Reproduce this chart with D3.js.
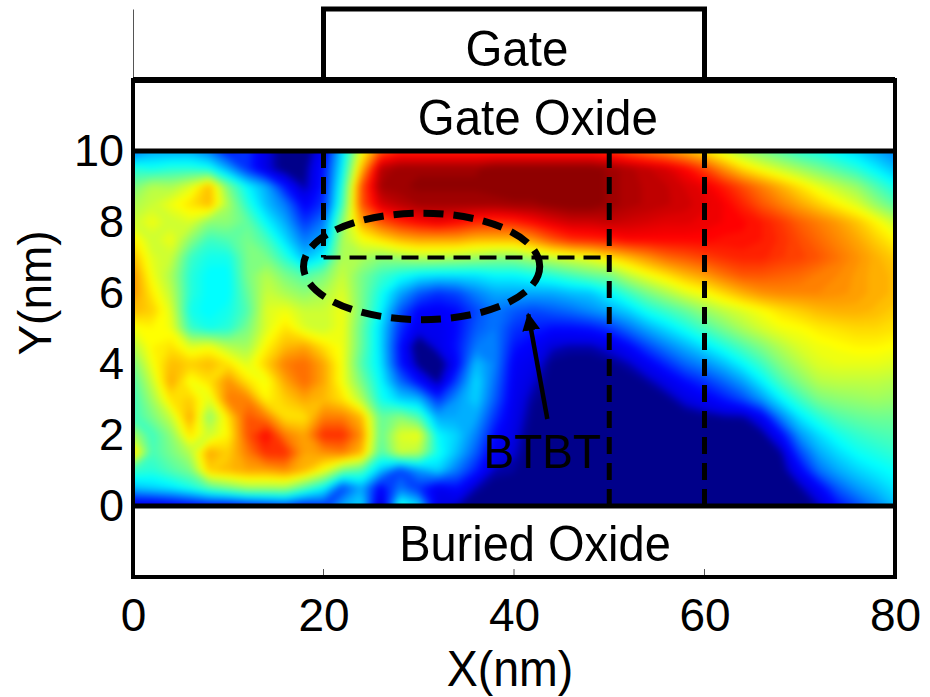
<!DOCTYPE html>
<html>
<head>
<meta charset="utf-8">
<script src="https://cdn.jsdelivr.net/npm/d3@7"></script>
<style>
  html, body { margin: 0; padding: 0; background: #fff; }
  text { font-family: "Liberation Sans", Arial, sans-serif; fill: #000; }
</style>
</head>
<body>
<div class="contain"></div>
<script>
// grid positions, nm
const xs = d3.range(0, 81, 2);
const ys = d3.range(10, -0.5, -0.5);

const xTicks = [0, 20, 40, 60, 80];
const yTicks = [0, 2, 4, 6, 8, 10];
const innerTicks = [20, 40, 60];
const gateEdges = [20, 60];
const dashedX = [50, 60];

// field, 0-100 on the jet scale, rows from y=10 down to y=0
const fieldRows = [
  [25,30,30,30,25,15,18,8,3,2,12,35,62,80,85,85,85,85,85,85, 85,85,85,85,85,84,80,77,74,70,66,60,54,50,46,42,40,37,34,30,26],
  [42,40,42,42,40,30,18,8,3,4,15,38,70,95,98,98,98,98,98,100, 100,100,100,100,100,98,96,94,92,88,82,74,67,62,58,54,50,46,42,37,32],
  [50,56,55,60,70,50,38,30,15,5,16,42,80,97,98,99,99,99,99,100, 100,100,100,100,100,98,96,95,94,92,90,86,81,76,71,66,61,57,53,46,40],
  [55,58,62,66,70,55,42,32,25,12,18,45,80,92,95,97,97,97,97,97, 98,98,99,100,100,98,96,95,94,93,91,89,85,80,76,72,68,64,60,53,47],
  [58,62,58,60,52,52,48,38,30,18,25,52,72,80,85,88,90,88,85,84, 85,88,91,93,93,94,93,92,91,91,90,89,88,86,83,79,76,73,69,64,58],
  [65,58,62,52,44,46,50,45,35,25,30,55,62,66,70,72,72,72,70,70, 70,74,80,84,85,86,88,88,88,88,88,87,87,86,84,81,78,75,72,68,64],
  [70,60,58,44,40,40,50,50,42,32,38,56,55,52,54,56,56,55,54,52, 52,55,58,60,62,66,70,74,78,80,82,84,85,85,83,82,80,77,74,71,68],
  [74,62,55,42,38,38,50,56,50,46,50,58,50,44,40,37,36,36,36,38, 38,40,42,45,48,50,57,62,66,70,73,77,80,80,79,78,76,75,73,71,70],
  [74,65,57,42,38,38,48,58,55,52,55,60,50,40,30,22,18,20,26,30, 30,30,30,32,33,38,44,50,55,60,63,67,71,74,75,75,75,74,73,71,70],
  [70,68,60,40,38,40,46,60,62,58,58,62,50,38,22,13,12,14,20,25, 22,20,22,24,27,30,34,40,44,48,53,57,60,63,66,68,70,71,71,70,68],
  [62,64,62,44,40,42,50,60,66,60,58,62,48,35,18,10,10,14,22,25, 18,16,14,14,15,18,24,30,35,40,45,50,55,59,62,63,65,66,67,67,66],
  [56,64,66,60,62,56,54,64,70,72,66,62,48,35,15,1,9,15,25,26, 15,12,7,6,6,8,13,20,26,31,36,41,46,51,56,60,62,63,64,64,63],
  [50,62,70,68,70,66,60,68,76,78,72,62,46,36,16,4,1,13,32,26, 12,9,4,3,3,4,6,11,17,23,27,32,38,44,51,56,60,61,61,61,60],
  [46,58,72,62,66,74,66,62,72,78,72,62,50,38,24,14,5,20,35,24, 11,7,3,2,2,3,3,5,9,14,18,23,29,37,45,51,56,57,57,57,56],
  [44,54,66,68,60,76,76,64,68,72,70,66,56,40,34,32,18,28,34,22, 10,5,3,1,1,1,2,3,4,8,11,15,20,28,37,44,50,52,53,54,53],
  [44,50,58,72,52,66,80,76,66,66,76,76,70,48,52,46,30,30,30,18, 9,4,2,0,0,0,1,1,2,3,4,5,5,11,26,36,42,46,48,49,49],
  [55,44,52,66,58,64,80,88,76,72,84,84,74,48,60,62,38,34,26,14, 8,3,1,0,0,0,0,0,1,1,2,2,3,4,13,28,35,40,43,45,46],
  [68,45,50,56,72,68,76,84,84,72,74,76,70,46,58,56,40,32,22,10, 7,2,1,0,0,0,0,0,0,0,0,1,2,3,5,20,30,35,39,41,43],
  [44,42,46,50,68,70,72,72,74,70,62,50,46,32,20,28,34,25,16,6, 5,1,0,0,0,0,0,0,0,0,0,0,0,1,3,12,24,30,34,37,39],
  [32,34,36,40,46,50,54,54,54,46,38,20,30,12,25,18,10,14,6,3, 3,1,0,0,0,0,0,0,0,0,0,0,0,0,2,5,12,22,28,32,36],
  [8,8,10,12,14,14,16,18,20,16,18,30,35,5,42,35,8,6,2,1, 1,0,0,0,0,0,0,0,0,0,0,0,0,0,0,2,6,14,20,26,32]
];

const svg_width = 930;
const svg_height = 697;

let svg = d3.select(".contain").append("svg")
            .attr("width", svg_width).attr("height", svg_height)
            .style("display", "block");

let xScale = d3.scaleLinear().domain([0, 80]).range([133, 895]);
let yScale = d3.scaleLinear().domain([-2, 14]).range([577, 9]);

// jet, with the low end held flat the way the picture saturates it
let jet = d3.scaleLinear()
            .domain([0, 4, 6.5, 12.5, 37.5, 62.5, 87.5, 100])
            .range(["#00008a", "#00008a", "#0000e0", "#0000ff", "#00ffff", "#ffff00", "#ff0000", "#7f0000"]);

// contour grid coordinates -> nm -> pixels
let gridX = d3.scaleLinear().domain([0.5, xs.length - 0.5]).range([xs[0], xs[xs.length - 1]]);
let gridY = d3.scaleLinear().domain([0.5, ys.length - 0.5]).range([ys[0], ys[ys.length - 1]]);

let contours = d3.contours()
                 .size([xs.length, ys.length])
                 .thresholds(d3.range(0, 100, 100 / 64))(fieldRows.flat());

let path = d3.geoPath(d3.geoTransform({
  point(px, py) { this.stream.point(xScale(gridX(px)), yScale(gridY(py))); }
}));

let defs = svg.append("defs");
defs.append("clipPath").attr("id", "plot")
    .append("rect")
    .attr("x", xScale(0)).attr("y", yScale(10))
    .attr("width", xScale(80) - xScale(0)).attr("height", yScale(0) - yScale(10));

// softens the polygon corners, the reference is a blurred scan
defs.append("filter").attr("id", "soft")
    .attr("filterUnits", "userSpaceOnUse")
    .attr("x", 100).attr("y", 120).attr("width", 830).attr("height", 420)
    .attr("color-interpolation-filters", "sRGB")
    .append("feGaussianBlur").attr("stdDeviation", 3);

svg.append("g").attr("clip-path", "url(#plot)")
   .append("g").attr("filter", "url(#soft)")
   .selectAll("path").data(contours).enter().append("path")
   .attr("d", path)
   .attr("fill", (d) => jet(d.value));

//Axes
let xAxis = d3.axisBottom(xScale).tickValues(xTicks).tickSize(0).tickPadding(21);
svg.append("g")
   .attr("transform", `translate(0, ${yScale(-2)})`)
   .call(xAxis)
   .call((g) => g.select(".domain").remove())
   .selectAll("text").style("font-size", "46px");

let yAxis = d3.axisLeft(yScale).tickValues(yTicks).tickSize(0).tickPadding(9);
svg.append("g")
   .attr("transform", `translate(${xScale(0)}, 0)`)
   .call(yAxis)
   .call((g) => g.select(".domain").attr("stroke", "#555").attr("stroke-width", 1))
   .selectAll("text").style("font-size", "45px");

svg.append("g").selectAll("line").data(innerTicks).enter().append("line")
   .attr("x1", (d) => xScale(d)).attr("x2", (d) => xScale(d))
   .attr("y1", yScale(-2)).attr("y2", yScale(-2) - 8)
   .attr("stroke", "#555").attr("stroke-width", 1);

// device outline
svg.append("path")
   .attr("d", `M${xScale(gateEdges[0])},${yScale(12)}V${yScale(14)}H${xScale(gateEdges[1])}V${yScale(12)}`)
   .attr("fill", "none").attr("stroke", "#000").attr("stroke-width", 5);

svg.append("rect")
   .attr("x", xScale(0)).attr("y", yScale(12))
   .attr("width", xScale(80) - xScale(0)).attr("height", yScale(-2) - yScale(12))
   .attr("fill", "none").attr("stroke", "#000").attr("stroke-width", 4);

svg.append("line")
   .attr("x1", xScale(0)).attr("x2", xScale(80))
   .attr("y1", yScale(12)).attr("y2", yScale(12))
   .attr("stroke", "#000").attr("stroke-width", 6);

[10, 0].forEach((v) => {
  svg.append("line")
     .attr("x1", xScale(0)).attr("x2", xScale(80))
     .attr("y1", yScale(v)).attr("y2", yScale(v))
     .attr("stroke", "#000").attr("stroke-width", 5);
});

// dashed lines
let dashed = svg.append("g").attr("stroke", "#000").attr("stroke-width", 5)
                .attr("stroke-dasharray", "17 9").attr("fill", "none");

dashedX.forEach((v) => {
  dashed.append("line")
        .attr("x1", xScale(v)).attr("x2", xScale(v))
        .attr("y1", yScale(10)).attr("y2", yScale(0));
});
dashed.append("line")
      .attr("x1", xScale(gateEdges[0])).attr("x2", xScale(gateEdges[0]))
      .attr("y1", yScale(10)).attr("y2", yScale(7));
dashed.append("line")
      .attr("x1", xScale(gateEdges[0])).attr("x2", xScale(50))
      .attr("y1", yScale(7)).attr("y2", yScale(7))
      .attr("stroke-width", 4);

// BTBT ellipse
svg.append("ellipse")
   .attr("cx", xScale(30.3)).attr("cy", yScale(6.75))
   .attr("rx", xScale(12.4) - xScale(0)).attr("ry", yScale(0) - yScale(1.5))
   .attr("fill", "none").attr("stroke", "#000").attr("stroke-width", 7)
   .attr("stroke-dasharray", "20 10");

// arrow
svg.append("marker").attr("id", "head")
   .attr("viewBox", "0 0 10 10").attr("refX", 9).attr("refY", 5)
   .attr("markerWidth", 4).attr("markerHeight", 5).attr("orient", "auto")
   .append("path").attr("d", "M0,0L10,5L0,10Z").attr("fill", "#000");
svg.append("line")
   .attr("x1", xScale(43.5)).attr("y1", yScale(2.45))
   .attr("x2", xScale(41.5)).attr("y2", yScale(5.4))
   .attr("stroke", "#000").attr("stroke-width", 4.5)
   .attr("marker-end", "url(#head)");

// labels, the scan is stretched a little vertically
const labels = [
  { text: "Gate", x: 40.3, y: 12.4, size: 47.5 },
  { text: "Gate Oxide", x: 42.5, y: 10.45, size: 47.5 },
  { text: "Buried Oxide", x: 42.2, y: -1.55, size: 47 },
  { text: "BTBT", x: 43, y: 1.06, size: 46 }
];
svg.append("g").selectAll("text").data(labels).enter().append("text")
   .attr("transform", (d) => `translate(${xScale(d.x)}, ${yScale(d.y)}) scale(1, 1.06)`)
   .attr("text-anchor", "middle").style("font-size", (d) => d.size + "px")
   .text((d) => d.text);

svg.append("text")
   .attr("transform", "translate(510, 686) scale(1, 1.06)")
   .attr("text-anchor", "middle").style("font-size", "46.5px")
   .text("X(nm)");

svg.append("text")
   .attr("transform", "translate(51, 293) rotate(-90)")
   .attr("text-anchor", "middle").style("font-size", "46px")
   .text("Y(nm)");
</script>
</body>
</html>
